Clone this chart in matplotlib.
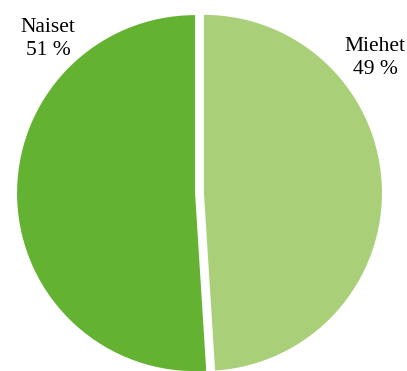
import matplotlib.pyplot as plt

labels = ["Miehet", "Naiset"]
shares = [49, 51]
colors = ["#A9CF78", "#64B232"]
label_pos = [(375, 58), (48, 39)]  # pixel centres of the labels

W, H = 407, 371
cx, cy, r = 199.5, 193, 178

fig = plt.figure(figsize=(W / 100, H / 100), dpi=100)
ax = fig.add_axes([0, 0, 1, 1])
ax.pie(shares, colors=colors, startangle=90, counterclock=False,
       explode=[0.025, 0.025], radius=1,
       wedgeprops=dict(linewidth=0))
ax.set_xlim(-cx / r, (W - cx) / r)
ax.set_ylim(-(H - cy) / r, cy / r)
ax.set_aspect("equal")
ax.axis("off")

for lab, val, (px, py) in zip(labels, shares, label_pos):
    ax.text((px - cx) / r, (cy - py) / r, f"{lab}\n{val} %",
            ha="center", va="center", fontsize=15.5,
            family="Liberation Serif", linespacing=1.3)

fig.savefig("out.png", dpi=100)
